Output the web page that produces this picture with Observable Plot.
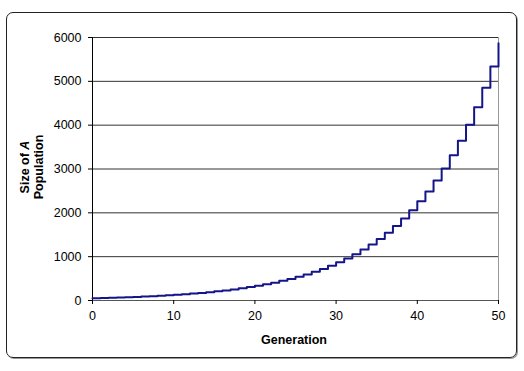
<!DOCTYPE html>
<html>
<head>
<meta charset="utf-8">
<script src="https://cdn.jsdelivr.net/npm/d3@7"></script>
<script src="https://cdn.jsdelivr.net/npm/@observablehq/plot@0.6"></script>
<style>
  html, body { margin: 0; padding: 0; background: #fff; }
  #wrap { position: relative; width: 524px; height: 371px; font-family: Arial, "Liberation Sans", sans-serif; }
  #border { position: absolute; left: 6px; top: 12px; width: 509px; height: 344px; border: 1px solid #222; border-radius: 7px; box-shadow: 1px 1px 0 #999; }
  #ylab { position: absolute; left: 32px; top: 167px; transform: translate(-50%, -50%) rotate(-90deg); text-align: center; font-weight: bold; font-size: 12.5px; line-height: 14px; white-space: nowrap; }
  #xlab { position: absolute; left: 294px; top: 340px; transform: translate(-50%, -50%); font-weight: bold; font-size: 12.5px; white-space: nowrap; }
  svg { position: absolute; left: 0; top: 0; }
</style>
</head>
<body>
<div id="wrap">
  <div id="border"></div>
  <div id="chart"></div>
  <div id="ylab">Size of <i>A</i><br>Population</div>
  <div id="xlab">Generation</div>
</div>
<script>
const generations = [0,1,2,3,4,5,6,7,8,9,10,11,12,13,14,15,16,17,18,19,20,21,22,23,24,25,26,27,28,29,30,31,32,33,34,35,36,37,38,39,40,41,42,43,44,45,46,47,48,49,50];
const population = [50,55,61,67,73,81,89,97,107,118,130,143,157,173,190,209,230,253,278,306,336,370,407,448,492,542,596,655,721,793,872,959,1055,1161,1277,1405,1545,1700,1870,2057,2263,2489,2738,3012,3313,3644,4009,4410,4851,5336,5870];
const yTicks = [0,1000,2000,3000,4000,5000,6000];
const xTicks = [0,10,20,30,40,50];

const data = generations.map((g, i) => ({g, p: population[i]}));

const chart = Plot.plot({
  width: 524,
  height: 371,
  marginLeft: 92,
  marginRight: 26,
  marginTop: 37,
  marginBottom: 71,
  style: {fontFamily: "Arial, 'Liberation Sans', sans-serif", fontSize: "12.5px", color: "#000", background: "transparent"},
  x: {domain: [0, 50], ticks: xTicks, label: null},
  y: {domain: [0, 6000], ticks: yTicks, label: null},
  marks: [
    Plot.ruleY(yTicks.filter(d => d > 0), {stroke: "#333", strokeWidth: 1, strokeOpacity: 1}),
    Plot.ruleX([50], {stroke: "#999", strokeWidth: 1}),
    Plot.ruleY([0], {stroke: "#555", strokeWidth: 1}),
    Plot.ruleX([0], {stroke: "#000", strokeWidth: 1}),
    Plot.line(data, {x: "g", y: "p", curve: "step-after", stroke: "#15158a", strokeWidth: 2}),
    Plot.axisY({ticks: yTicks, tickSize: 4, tickPadding: 7, tickFormat: d => String(d), label: null, fontSize: 12.5}),
    Plot.axisX({ticks: xTicks, tickSize: 4, tickPadding: 7, tickFormat: d => String(d), label: null, fontSize: 12.5})
  ]
});
document.getElementById("chart").appendChild(chart);
</script>
</body>
</html>
